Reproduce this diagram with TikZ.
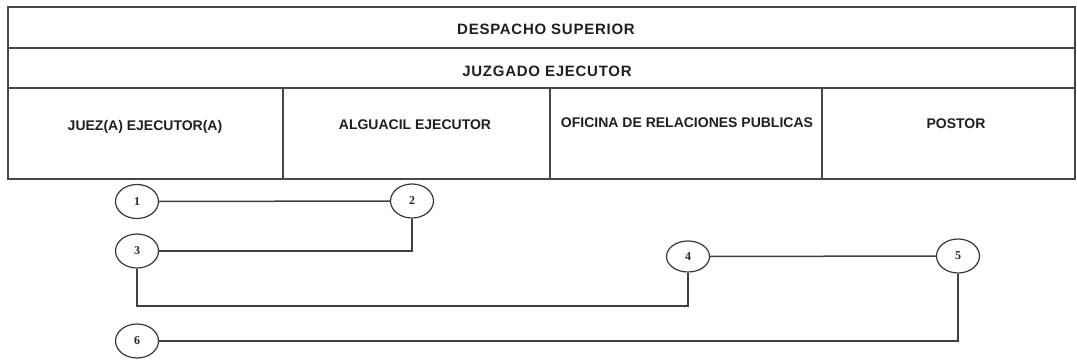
\documentclass[tikz,border=0pt]{standalone}
\usepackage{fontspec}
\setmainfont{Liberation Sans}
\newfontfamily\numfont{Liberation Serif}
\newfontfamily\headfont[LetterSpace=5]{Liberation Sans}
\usetikzlibrary{shapes.geometric}
\begin{document}
\begin{tikzpicture}[x=1pt,y=-1pt,
  box/.style={draw=black!72, line width=1.5pt, rectangle, inner sep=0pt},
  head/.style={font=\headfont\fontsize{15}{17}\selectfont\bfseries, text=black!88, inner sep=0pt},
  lab/.style={font=\fontsize{14}{16}\selectfont\bfseries, text=black!88, inner sep=0pt},
  num/.style={ellipse, draw=black!78, line width=1.2pt, minimum width=43pt, minimum height=34pt, inner sep=0pt, font=\numfont\fontsize{12}{13}\selectfont\bfseries, text=black!85},
  link/.style={draw=black!75, line width=1.5pt}]
\useasboundingbox (0,0) rectangle (1077,361);
% boxes
\node[box, minimum width=1067pt, minimum height=41pt] (r1) at (541.5,27.5) {};
\node[box, minimum width=1067pt, minimum height=40pt] (r2) at (541.5,68) {};
\node[box, minimum width=275pt, minimum height=91pt] (b1) at (145.5,133.5) {};
\node[box, minimum width=267pt, minimum height=91pt] (b2) at (416.5,133.5) {};
\node[box, minimum width=272pt, minimum height=91pt] (b3) at (686,133.5) {};
\node[box, minimum width=253pt, minimum height=91pt] (b4) at (948.5,133.5) {};
% texts
\node[head] (t1) at (546,29) {DESPACHO SUPERIOR};
\node[head] (t2) at (547,71) {JUZGADO EJECUTOR};
\node[lab] (t3) at (145,127) {JUEZ(A) EJECUTOR(A)};
\node[lab] (t4) at (415,125) {ALGUACIL EJECUTOR};
\node[lab] (t5) at (687,123) {OFICINA DE RELACIONES PUBLICAS};
\node[lab] (t6) at (956,124) {POSTOR};
% circles
\node[num] (c1) at (137,201.5) {1};
\node[num] (c2) at (412,201) {2};
\node[num] (c3) at (137,251) {3};
\node[num, minimum height=31pt] (c4) at (688,256.5) {4};
\node[num] (c5) at (958,256) {5};
\node[num] (c6) at (137,341) {6};
\coordinate (j34) at (400,306);
% connectors
\draw[link] (c1.east) -- (c2.west);
\draw[link] (c2.south) |- (c3.east);
\draw[link] (c3.south) |- (j34) -| (c4.south);
\draw[link] (c4.east) -- (c5.west);
\draw[link] (c5.south) |- (c6.east);
\end{tikzpicture}
\end{document}
